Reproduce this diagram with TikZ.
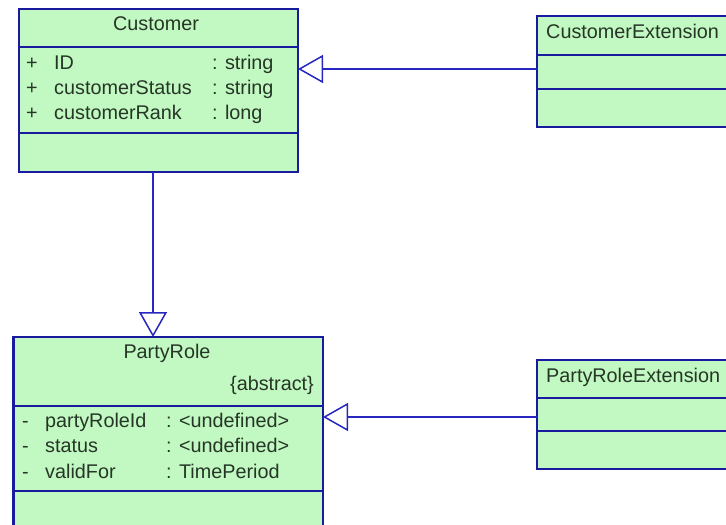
\documentclass[tikz,border=0pt]{standalone}
\usepackage{fontspec}
\setmainfont{Liberation Sans}
\usetikzlibrary{arrows.meta}
\definecolor{boxfill}{HTML}{C2F8C2}
\definecolor{boxline}{HTML}{1A1AA0}
\definecolor{conn}{HTML}{2828C0}
\definecolor{txt}{HTML}{263626}
\begin{document}
\begin{tikzpicture}[x=1pt,y=-1pt,
  umlbox/.style={draw=boxline, fill=boxfill, line width=1.6pt, inner sep=0pt, outer sep=0pt, anchor=north west},
  sepline/.style={draw=boxline, line width=1.6pt},
  lbl/.style={inner sep=0pt, text=txt, font=\fontsize{19.8}{23}\selectfont},
  gen/.style={draw=conn, line width=1.5pt, -{Triangle[open, length=25pt, width=28pt, line width=1.5pt]}}
]
\useasboundingbox (0,0) rectangle (726,525);
\clip (0,0) rectangle (726,525);
\fill[white] (0,0) rectangle (726,525);

% Customer
\node[umlbox, minimum width=279pt, minimum height=163pt] (cust) at (19,9) {};
\draw[sepline] (cust.west |- 0,47) -- (cust.east |- 0,47);
\draw[sepline] (cust.west |- 0,133) -- (cust.east |- 0,133);
\node[lbl, anchor=mid] (custname) at (156,28) {Customer};
\node[lbl, anchor=mid west] (c1a) at (26,67) {+};
\node[lbl, anchor=mid west] (c1b) at (54,67) {ID};
\node[lbl, anchor=mid west] (c1c) at (212,67) {: string};
\node[lbl, anchor=mid west] (c2a) at (26,92) {+};
\node[lbl, anchor=mid west] (c2b) at (54,92) {customerStatus};
\node[lbl, anchor=mid west] (c2c) at (212,92) {: string};
\node[lbl, anchor=mid west] (c3a) at (26,117) {+};
\node[lbl, anchor=mid west] (c3b) at (54,117) {customerRank};
\node[lbl, anchor=mid west] (c3c) at (212,117) {: long};

% CustomerExtension
\node[umlbox, minimum width=220pt, minimum height=111pt] (cext) at (537,16) {};
\draw[sepline] (cext.west |- 0,55) -- (cext.east |- 0,55);
\draw[sepline] (cext.west |- 0,89) -- (cext.east |- 0,89);
\node[lbl, anchor=mid west] (cextname) at (546,36) {CustomerExtension};

% PartyRole
\node[umlbox, minimum width=310pt, minimum height=210pt] (prole) at (13,337) {};
\draw[sepline] (prole.west |- 0,406) -- (prole.east |- 0,406);
\draw[sepline] (prole.west |- 0,491) -- (prole.east |- 0,491);
\draw[boxline, line width=3pt] (prole.north west) -- (prole.south west);
\node[lbl, anchor=mid] (prname) at (167,356) {PartyRole};
\node[lbl, anchor=mid east] (prabs) at (314,388) {\{abstract\}};
\node[lbl, anchor=mid west] (p1a) at (22,425) {-};
\node[lbl, anchor=mid west] (p1b) at (45,425) {partyRoleId};
\node[lbl, anchor=mid west] (p1c) at (166,425) {: <undefined>};
\node[lbl, anchor=mid west] (p2a) at (22,450) {-};
\node[lbl, anchor=mid west] (p2b) at (45,450) {status};
\node[lbl, anchor=mid west] (p2c) at (166,450) {: <undefined>};
\node[lbl, anchor=mid west] (p3a) at (22,476) {-};
\node[lbl, anchor=mid west] (p3b) at (45,476) {validFor};
\node[lbl, anchor=mid west] (p3c) at (166,476) {: TimePeriod};

% PartyRoleExtension
\node[umlbox, minimum width=220pt, minimum height=109pt] (prext) at (537,360) {};
\draw[sepline] (prext.west |- 0,398) -- (prext.east |- 0,398);
\draw[sepline] (prext.west |- 0,431) -- (prext.east |- 0,431);
\node[lbl, anchor=mid west] (prextname) at (546,380) {PartyRoleExtension};

% connectors
\coordinate (a1) at (cext.west |- 0,69);
\coordinate (a2) at (cust.east |- 0,69);
\draw[gen] (a1) -- (a2);
\coordinate (b1) at (prext.west |- 0,417);
\coordinate (b2) at (prole.east |- 0,417);
\draw[gen] (b1) -- (b2);
\coordinate (v1) at (cust.south -| 153,0);
\coordinate (v2) at (prole.north -| 153,0);
\draw[gen] (v1) -- (v2);
\end{tikzpicture}
\end{document}
